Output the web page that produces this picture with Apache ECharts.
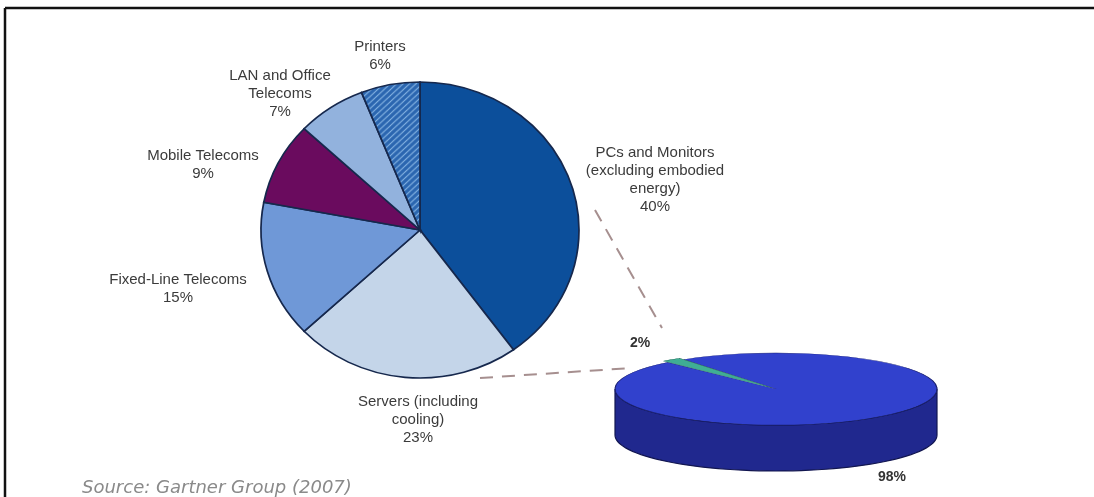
<!DOCTYPE html>
<html><head><meta charset="utf-8">
<script src="https://cdn.jsdelivr.net/npm/echarts@6/dist/echarts.min.js"></script>
<style>html,body{margin:0;padding:0;background:#fff}#c{width:1094px;height:497px}</style>
</head><body><div id="c"></div>
<script>
// ---- data ----
const categories = ['PCs and Monitors\n(excluding embodied\nenergy)', 'Servers (including\ncooling)', 'Fixed-Line Telecoms', 'Mobile Telecoms', 'LAN and Office\nTelecoms', 'Printers'];
const shares = [40, 23, 15, 9, 7, 6];
const shareLabels = ['40%', '23%', '15%', '9%', '7%', '6%'];
const subCategories = ['Rest of economy', 'ICT'];
const subShares = [98, 2];
const subLabels = ['98%', '2%'];
const sourceText = 'Source: Gartner Group (2007)';

// ---- layout / style ----
const MAIN = {cx: 420, cy: 230, rx: 159, ry: 148};
const mainColors = ['#0c4f9b', '#c4d5e9', '#6f98d7', '#6a0b5e', '#92b2dd', 'hatch'];
const mainLabelPos = [[655, 153], [418, 402], [178, 280], [203, 156], [280, 76], [380, 47]];
const SUB = {cx: 776, cy: 389, rx: 161, ry: 36, depth: 46, startDeg: 235, explode: 7};
const subTop = ['#3141cd', '#3fae94'];
const subSide = ['#20288e', '#1f6e5a'];
const subLabelPos = [[892, 477], [640, 343]];
const LH = 18;

function hatchCanvas() {
  const c = document.createElement('canvas'); c.width = 6; c.height = 6;
  const g = c.getContext('2d');
  g.fillStyle = '#2b66b0'; g.fillRect(0, 0, 6, 6);
  g.strokeStyle = '#86b4e3'; g.lineWidth = 1.1;
  g.beginPath();
  g.moveTo(0, 6); g.lineTo(6, 0);
  g.moveTo(-3, 3); g.lineTo(3, -3);
  g.moveTo(3, 9); g.lineTo(9, 3);
  g.stroke();
  return c;
}
const hatch = hatchCanvas();
const total = shares.reduce((a, b) => a + b, 0);
const subTotal = subShares.reduce((a, b) => a + b, 0);

function cumBefore(arr, i) { let s = 0; for (let k = 0; k < i; k++) s += arr[k]; return s; }

function renderMain(params, api) {
  const i = params.dataIndex;
  const a0 = -Math.PI / 2 + 2 * Math.PI * cumBefore(shares, i) / total;
  const a1 = a0 + 2 * Math.PI * api.value(0) / total;
  const fill = mainColors[i] === 'hatch' ? {image: hatch, repeat: 'repeat'} : mainColors[i];
  return {
    type: 'sector', x: MAIN.cx, y: MAIN.cy, scaleX: MAIN.rx / MAIN.ry,
    shape: {cx: 0, cy: 0, r: MAIN.ry, r0: 0, startAngle: a0, endAngle: a1, clockwise: true},
    style: {fill: fill, stroke: '#16284d', lineWidth: 1.6, strokeNoScale: true}
  };
}

function renderSub(params, api) {
  const i = params.dataIndex;
  const st = SUB.startDeg * Math.PI / 180;
  const a0 = st + 2 * Math.PI * cumBefore(subShares, i) / subTotal;
  const a1 = a0 + 2 * Math.PI * api.value(0) / subTotal;
  const k = SUB.ry / SUB.rx;
  const mid = (a0 + a1) / 2;
  const ex = i === 1 ? SUB.explode : 0;
  const ox = Math.cos(mid) * ex, oy = Math.sin(mid) * ex * k;
  const cx = SUB.cx + ox, cy = SUB.cy + oy;
  const children = [];
  for (let n = -1; n <= 2; n++) {
    const lo = Math.max(a0, 2 * Math.PI * n), hi = Math.min(a1, 2 * Math.PI * n + Math.PI);
    if (hi > lo) {
      const pts = [], steps = 60;
      for (let s = 0; s <= steps; s++) {
        const t = lo + (hi - lo) * s / steps;
        pts.push([cx + SUB.rx * Math.cos(t), cy + SUB.ry * Math.sin(t)]);
      }
      for (let s = steps; s >= 0; s--) {
        const t = lo + (hi - lo) * s / steps;
        pts.push([cx + SUB.rx * Math.cos(t), cy + SUB.ry * Math.sin(t) + SUB.depth]);
      }
      children.push({type: 'polygon', shape: {points: pts},
        style: {fill: subSide[i], stroke: '#121650', lineWidth: 1.2}});
    }
  }
  children.push({
    type: 'sector', x: cx, y: cy, scaleY: k,
    shape: {cx: 0, cy: 0, r: SUB.rx, r0: 0, startAngle: a0, endAngle: a1, clockwise: true},
    style: {fill: subTop[i], stroke: i === 1 ? '#155a45' : '#1a2070', lineWidth: 1.2, strokeNoScale: true}
  });
  return {type: 'group', children: children};
}

const labelFont = '15px "Liberation Sans", Arial, sans-serif';
const graphics = [];
categories.forEach((c, i) => {
  const lines = c.split('\n').length + 1;
  graphics.push({type: 'text', x: mainLabelPos[i][0], y: mainLabelPos[i][1] - LH / 2,
    style: {text: c + '\n' + shareLabels[i], font: labelFont, fill: '#3b3b3b',
      textAlign: 'center', textVerticalAlign: 'top', lineHeight: LH}});
});
subLabels.forEach((t, i) => {
  graphics.push({type: 'text', x: subLabelPos[i][0], y: subLabelPos[i][1],
    style: {text: t, font: 'bold 14px "Liberation Sans", Arial, sans-serif', fill: '#333',
      textAlign: 'center', textVerticalAlign: 'middle'}});
});
graphics.push({type: 'line', shape: {x1: 595, y1: 210, x2: 662, y2: 328},
  style: {stroke: '#a68f8f', lineWidth: 2, lineDash: [13, 9]}});
graphics.push({type: 'line', shape: {x1: 480, y1: 378, x2: 632, y2: 368},
  style: {stroke: '#a68f8f', lineWidth: 2, lineDash: [13, 9]}});
graphics.push({type: 'text', x: 82, y: 488,
  style: {text: sourceText, font: 'italic 18px "DejaVu Sans", Verdana, sans-serif', fill: '#8a8a8a',
    textAlign: 'left', textVerticalAlign: 'middle'}});
graphics.push({type: 'line', shape: {x1: 5, y1: 8, x2: 1094, y2: 8}, style: {stroke: '#111', lineWidth: 2.5}});
graphics.push({type: 'line', shape: {x1: 5, y1: 8, x2: 5, y2: 497}, style: {stroke: '#111', lineWidth: 2.5}});

const chart = echarts.init(document.getElementById('c'), null, {renderer: 'canvas'});
chart.setOption({
  animation: false,
  backgroundColor: '#ffffff',
  series: [
    {type: 'custom', name: 'ICT energy', coordinateSystem: 'none', renderItem: renderMain,
      data: shares.map((v, i) => ({name: categories[i], value: [v]}))},
    {type: 'custom', name: 'Share', coordinateSystem: 'none', renderItem: renderSub,
      data: subShares.map((v, i) => ({name: subCategories[i], value: [v]}))}
  ],
  graphic: graphics
});
</script></body></html>
